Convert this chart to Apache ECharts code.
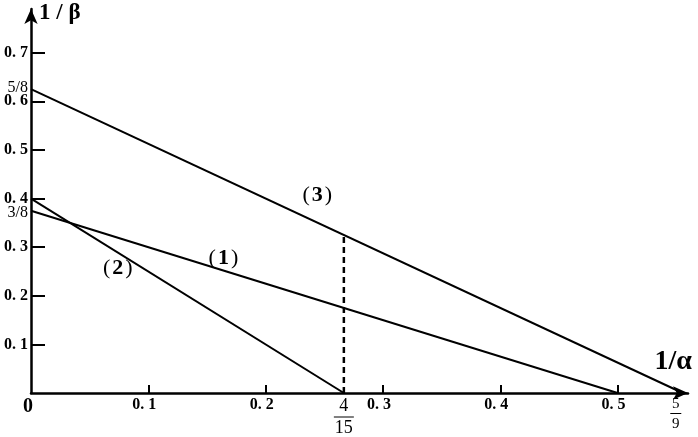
<!DOCTYPE html>
<html>
<head>
<meta charset="utf-8">
<script src="https://cdn.jsdelivr.net/npm/echarts@6/dist/echarts.min.js"></script>
<style>
  html, body { margin: 0; padding: 0; background: #fff; }
</style>
</head>
<body>
<div id="chart" style="width: 698px; height: 437px;"></div>
<script>
// tick values and special fraction marks
const xTicks = [0.1, 0.2, 0.3, 0.4, 0.5];
const yTicks = [0.1, 0.2, 0.3, 0.4, 0.5, 0.6, 0.7];
const xFractions = [4 / 15, 5 / 9];
const yFractions = [3 / 8, 5 / 8];

// the three lines (intercept form) and the dashed drop line
const line1 = [[0, 3 / 8], [0.5, 0]];
const line2 = [[0, 0.4], [4 / 15, 0]];
const line3 = [[0, 5 / 8], [5 / 9, 0]];
const dropLine = [[4 / 15, 0], [4 / 15, 0.325]];

// where the "(1)", "(2)", "(3)" tags sit
const lineTags = [
  { name: '1', value: [0.164, 0.278] },
  { name: '2', value: [0.074, 0.257] },
  { name: '3', value: [0.244, 0.407] }
];

const serif = 'Liberation Serif';
const near = (a, b) => Math.abs(a - b) < 1e-6;

let chart = echarts.init(document.getElementById('chart'));

chart.setOption({
  animation: false,
  grid: { left: 31, right: 10, top: 9, bottom: 44 },
  xAxis: {
    type: 'value',
    min: 0,
    max: 0.56,
    splitLine: { show: false },
    name: '1/α',
    nameLocation: 'end',
    nameGap: 4,
    nameTextStyle: {
      fontFamily: serif, fontWeight: 'bold', fontSize: 28, color: '#000',
      align: 'right', verticalAlign: 'bottom', padding: [0, 0, 17, 0]
    },
    axisLine: {
      lineStyle: { color: '#000', width: 2.5 },
      symbol: ['none', 'arrow'],
      symbolSize: [10, 15]
    },
    axisTick: {
      inside: true, length: 8,
      lineStyle: { color: '#000', width: 2 },
      customValues: xTicks
    },
    axisLabel: {
      margin: 4,
      customValues: [0].concat(xTicks, xFractions),
      formatter: function (v) {
        if (v === 0) return '{o|0}';
        if (near(v, xFractions[0])) return '{n|4}\n{bar| }\n{d|15}';
        if (near(v, xFractions[1])) return '{n2|5}{sp| }\n{bar2| }{sp| }\n{d2|9}{sp| }';
        return '{t|' + v.toFixed(1).replace('.', '. ') + '}';
      },
      rich: {
        t: { fontFamily: serif, fontWeight: 'bold', fontSize: 16, color: '#000', padding: [0, 8, 0, 0] },
        o: { fontFamily: serif, fontWeight: 'bold', fontSize: 20, color: '#000', padding: [0, 6, 0, 0] },
        n: { fontFamily: serif, fontSize: 18, color: '#000', lineHeight: 18 },
        bar: { width: 20, height: 1, lineHeight: 4, fontSize: 1, backgroundColor: '#000' },
        d: { fontFamily: serif, fontSize: 18, color: '#000', lineHeight: 18 },
        n2: { fontFamily: serif, fontSize: 15, color: '#000', lineHeight: 14 },
        bar2: { width: 11, height: 1, lineHeight: 5, fontSize: 1, backgroundColor: '#000' },
        d2: { fontFamily: serif, fontSize: 15, color: '#000', lineHeight: 17 },
        sp: { width: 14, fontSize: 1 }
      }
    }
  },
  yAxis: {
    type: 'value',
    min: 0,
    max: 0.79,
    splitLine: { show: false },
    name: '1 / β',
    nameLocation: 'end',
    nameGap: -4,
    nameTextStyle: {
      fontFamily: serif, fontWeight: 'bold', fontSize: 23, color: '#000',
      align: 'left', verticalAlign: 'middle', padding: [0, 0, 0, 8]
    },
    axisLine: {
      lineStyle: { color: '#000', width: 2.5 },
      symbol: ['none', 'arrow'],
      symbolSize: [10, 15]
    },
    axisTick: {
      inside: true, length: 14,
      lineStyle: { color: '#000', width: 2 },
      customValues: yTicks
    },
    axisLabel: {
      margin: 3,
      customValues: yTicks.concat(yFractions),
      formatter: function (v) {
        if (near(v, 3 / 8)) return '{lo|3/8}';
        if (near(v, 5 / 8)) return '{hi|5/8}';
        return '{t|' + v.toFixed(1).replace('.', '. ') + '}';
      },
      rich: {
        t: { fontFamily: serif, fontWeight: 'bold', fontSize: 16, color: '#000' },
        hi: { fontFamily: serif, fontSize: 16, color: '#000', padding: [0, 0, 3, 0] },
        lo: { fontFamily: serif, fontSize: 16, color: '#000', padding: [5, 0, 0, 0] }
      }
    }
  },
  series: [
    {
      type: 'line', data: line1, symbol: 'none', silent: true,
      lineStyle: { color: '#000', width: 2 }
    },
    {
      type: 'line', data: line2, symbol: 'none', silent: true,
      lineStyle: { color: '#000', width: 2 }
    },
    {
      type: 'line', data: line3, symbol: 'none', silent: true,
      lineStyle: { color: '#000', width: 2 }
    },
    {
      type: 'line', data: dropLine, symbol: 'none', silent: true,
      lineStyle: { color: '#000', width: 2.5, type: [6, 4] }
    },
    {
      type: 'scatter', data: lineTags, symbolSize: 0, silent: true,
      itemStyle: { opacity: 1, color: '#000' },
      label: {
        show: true,
        position: 'inside',
        color: '#000',
        textBorderWidth: 0,
        formatter: function (p) { return '{p|(}{b|' + p.name + '}{p|)}'; },
        rich: {
          p: { fontFamily: serif, fontSize: 22, color: '#000', padding: [0, 2, 0, 2] },
          b: { fontFamily: serif, fontWeight: 'bold', fontSize: 22, color: '#000' }
        }
      }
    }
  ]
});
</script>
</body>
</html>
